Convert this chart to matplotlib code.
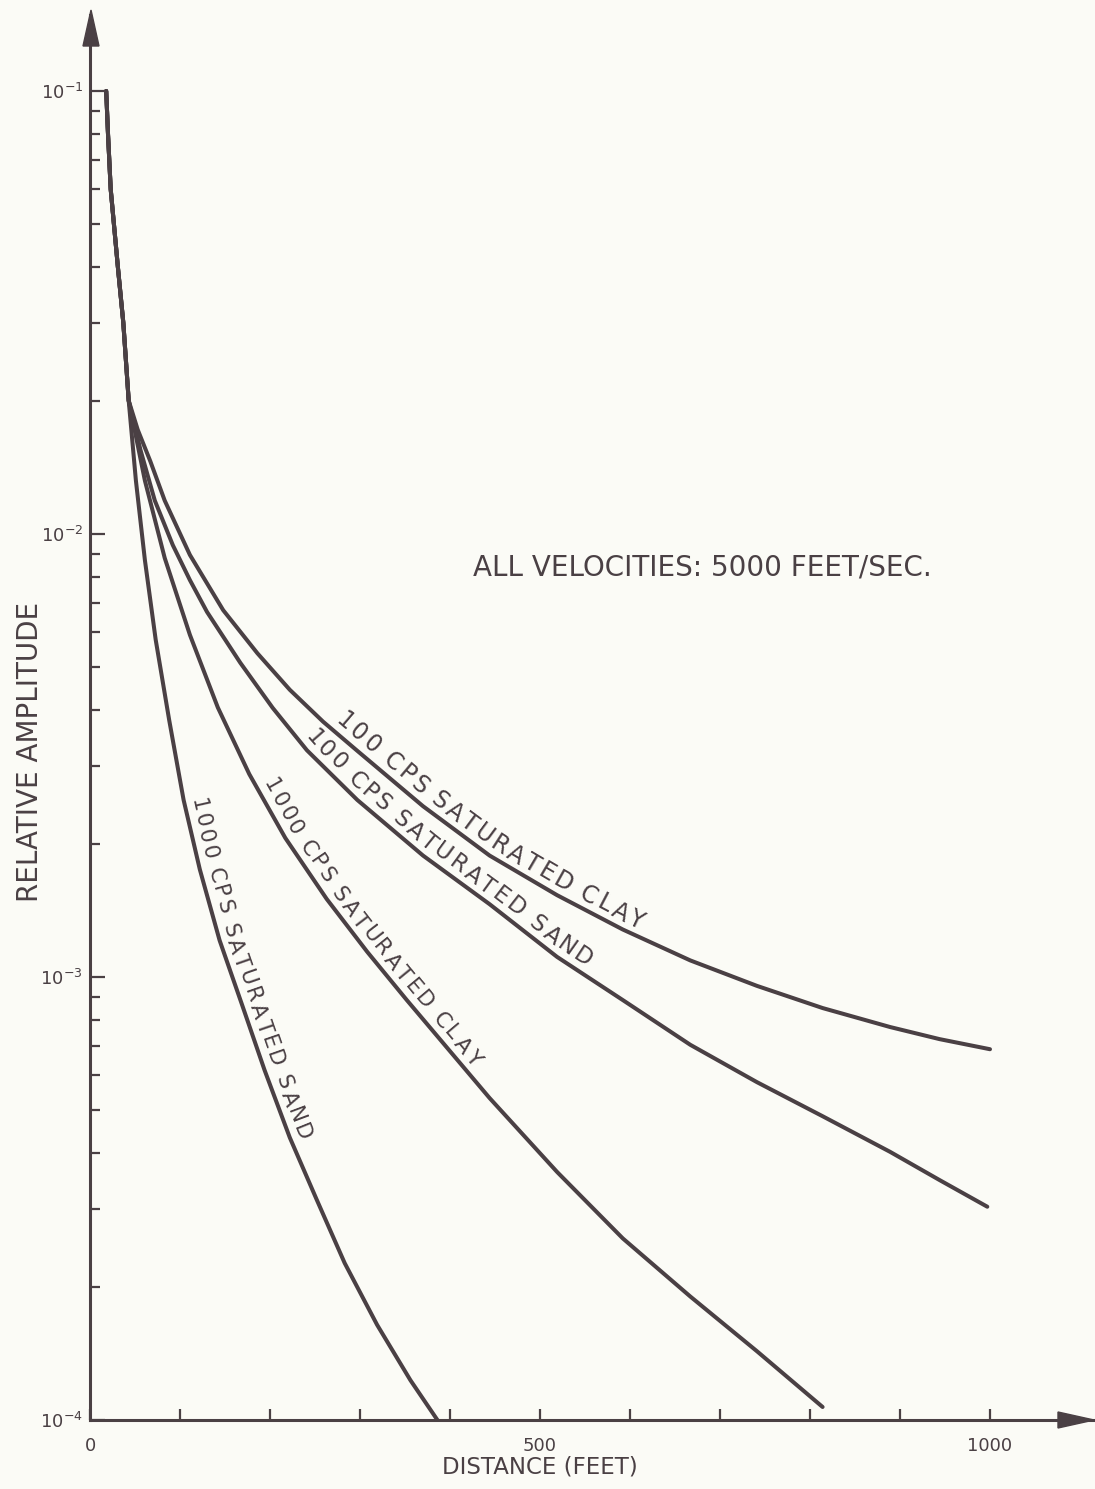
import numpy as np
import matplotlib
matplotlib.use("Agg")
import matplotlib.pyplot as plt
from matplotlib.patches import Polygon
from matplotlib.ticker import FixedLocator, LogLocator, NullFormatter
from matplotlib.font_manager import FontProperties
from matplotlib.transforms import IdentityTransform

# common steep part shared by all four curves (distance ft, relative amplitude)
trunk_x = [18, 20, 23, 31, 37, 43]
trunk_y = [1.0e-1, 8.0e-2, 6.0e-2, 4.0e-2, 3.0e-2, 2.0e-2]

clay100_x = [53, 67, 83, 111, 148, 186, 222, 259, 297, 370, 444, 519, 592, 667, 741, 814, 889, 944, 1000]
clay100_y = [1.72e-2, 1.46e-2, 1.19e-2, 8.97e-3, 6.73e-3, 5.38e-3, 4.45e-3, 3.77e-3, 3.24e-3,
             2.43e-3, 1.88e-3, 1.53e-3, 1.28e-3, 1.09e-3, 9.55e-4, 8.51e-4, 7.71e-4, 7.24e-4, 6.87e-4]

sand100_x = [56, 72, 92, 111, 130, 167, 203, 241, 297, 370, 444, 519, 592, 667, 741, 814, 889, 944, 997]
sand100_y = [1.55e-2, 1.19e-2, 9.44e-3, 7.87e-3, 6.67e-3, 5.12e-3, 4.05e-3, 3.25e-3, 2.51e-3,
             1.88e-3, 1.46e-3, 1.11e-3, 8.87e-4, 7.03e-4, 5.79e-4, 4.85e-4, 4.03e-4, 3.48e-4, 3.03e-4]

clay1000_x = [61, 83, 111, 142, 177, 217, 263, 308, 352, 400, 444, 519, 592, 667, 741, 814]
clay1000_y = [1.32e-2, 8.83e-3, 5.92e-3, 4.06e-3, 2.87e-3, 2.06e-3, 1.50e-3, 1.14e-3, 8.87e-4,
              6.80e-4, 5.33e-4, 3.63e-4, 2.57e-4, 1.90e-4, 1.43e-4, 1.07e-4]

sand1000_x = [51, 61, 73, 88, 104, 122, 144, 169, 194, 222, 252, 283, 319, 356, 386]
sand1000_y = [1.32e-2, 8.73e-3, 5.77e-3, 3.80e-3, 2.51e-3, 1.75e-3, 1.21e-3, 8.65e-4, 6.16e-4,
              4.34e-4, 3.14e-4, 2.26e-4, 1.64e-4, 1.23e-4, 1.0e-4]

labels = ["100 CPS SATURATED CLAY", "100 CPS SATURATED SAND",
          "1000 CPS SATURATED CLAY", "1000 CPS SATURATED SAND"]
label_start = [265, 232, 184, 104]   # distance where each label starts along its curve
label_size = [17, 16.5, 15.5, 15.5]

x_major = [0, 500, 1000]
x_major_labels = ["0", "500", "1000"]
x_minor = [100, 200, 300, 400, 600, 700, 800, 900]
y_major = [1e-4, 1e-3, 1e-2, 1e-1]
y_major_labels = [r"$10^{-4}$", r"$10^{-3}$", r"$10^{-2}$", r"$10^{-1}$"]

ink = "#4a4044"
bg = "#fbfbf6"
W, H = 1095, 1489


def fx(px):
    return px / W


def fy(py):
    return 1 - py / H


def curve_label(ax, xs, ys, text, x0, offset, size):
    # letters placed one by one along the curve, like the hand lettering
    prop = FontProperties(family="DejaVu Sans", size=size)
    em = size * 100 / 72
    renderer = ax.figure.canvas.get_renderer()
    pts = ax.transData.transform(np.column_stack([xs, ys]))
    seg = np.diff(pts, axis=0)
    s = np.concatenate([[0], np.cumsum(np.hypot(seg[:, 0], seg[:, 1]))])
    xd0 = ax.transData.transform((x0, 1e-2))[0]
    pos = np.interp(xd0, pts[:, 0], s)
    for ch in text:
        if ch == " ":
            pos += 0.38 * em
            continue
        w = renderer.get_text_width_height_descent(ch, prop, ismath=False)[0] + 0.12 * em
        c = pos + w / 2
        a, b = c - w / 2 - 4, c + w / 2 + 4
        pa = np.array([np.interp(a, s, pts[:, 0]), np.interp(a, s, pts[:, 1])])
        pb = np.array([np.interp(b, s, pts[:, 0]), np.interp(b, s, pts[:, 1])])
        pc = np.array([np.interp(c, s, pts[:, 0]), np.interp(c, s, pts[:, 1])])
        d = (pb - pa) / np.hypot(*(pb - pa))
        n = np.array([-d[1], d[0]])
        p = pc + n * offset
        ang = np.degrees(np.arctan2(d[1], d[0]))
        ax.text(p[0], p[1], ch, transform=IdentityTransform(), rotation=ang,
                rotation_mode="anchor", ha="center", va="baseline",
                fontproperties=prop, color=ink)
        pos += w


fig = plt.figure(figsize=(W / 100, H / 100), dpi=100, facecolor=bg)
ax = fig.add_axes([fx(90), fy(1420), fx(1093) - fx(90), fy(15) - fy(1420)])
ax.set_facecolor(bg)

ax.set_yscale("log")
ax.set_xlim(0, 1003 / 0.9)
ax.set_ylim(1e-4, 10 ** (-4 + 1405 / 443))

curves = [(clay100_x, clay100_y), (sand100_x, sand100_y),
          (clay1000_x, clay1000_y), (sand1000_x, sand1000_y)]
for cx, cy in curves:
    ax.plot(trunk_x + cx, trunk_y + cy, color=ink, linewidth=2.9,
            solid_capstyle="round", solid_joinstyle="round", clip_on=False)

# spines / ticks
for side in ["top", "right"]:
    ax.spines[side].set_visible(False)
for side in ["left", "bottom"]:
    ax.spines[side].set_linewidth(2.2)
    ax.spines[side].set_color(ink)

ax.xaxis.set_major_locator(FixedLocator(x_major))
ax.set_xticklabels(x_major_labels)
ax.xaxis.set_minor_locator(FixedLocator(x_minor))
ax.yaxis.set_major_locator(FixedLocator(y_major))
ax.set_yticklabels(y_major_labels)
ax.yaxis.set_minor_locator(LogLocator(base=10, subs=np.arange(2, 10), numticks=20))
ax.yaxis.set_minor_formatter(NullFormatter())

ax.tick_params(axis="both", which="both", direction="in", color=ink, width=1.6,
               labelcolor=ink)
ax.tick_params(axis="x", which="both", length=8, pad=12, labelsize=13)
ax.tick_params(axis="y", which="major", length=11, pad=5, labelsize=13)
ax.tick_params(axis="y", which="minor", length=7)

# arrow heads on the axes
ax_arrow_y = Polygon([[fx(91), fy(10)], [fx(83), fy(46)], [fx(99), fy(46)]],
                     closed=True, transform=fig.transFigure, color=ink, zorder=5)
ax_arrow_x = Polygon([[fx(1094), fy(1420)], [fx(1058), fy(1412)], [fx(1058), fy(1428)]],
                     closed=True, transform=fig.transFigure, color=ink, zorder=5)
fig.patches.extend([ax_arrow_y, ax_arrow_x])

fig.text(fx(30), fy(752), "RELATIVE AMPLITUDE", rotation=90, ha="center", va="center",
         fontsize=20, color=ink)
fig.text(fx(540), fy(1467), "DISTANCE (FEET)", ha="center", va="center",
         fontsize=16.5, color=ink)
ax.text(680, 8.4e-3, "ALL VELOCITIES: 5000 FEET/SEC.", ha="center", va="center",
        fontsize=20, color=ink)

fig.canvas.draw()
for (cx, cy), lab, x0, sz in zip(curves, labels, label_start, label_size):
    curve_label(ax, trunk_x + cx, trunk_y + cy, lab, x0, 7, sz)

fig.savefig("out.png", dpi=100, facecolor=bg)
